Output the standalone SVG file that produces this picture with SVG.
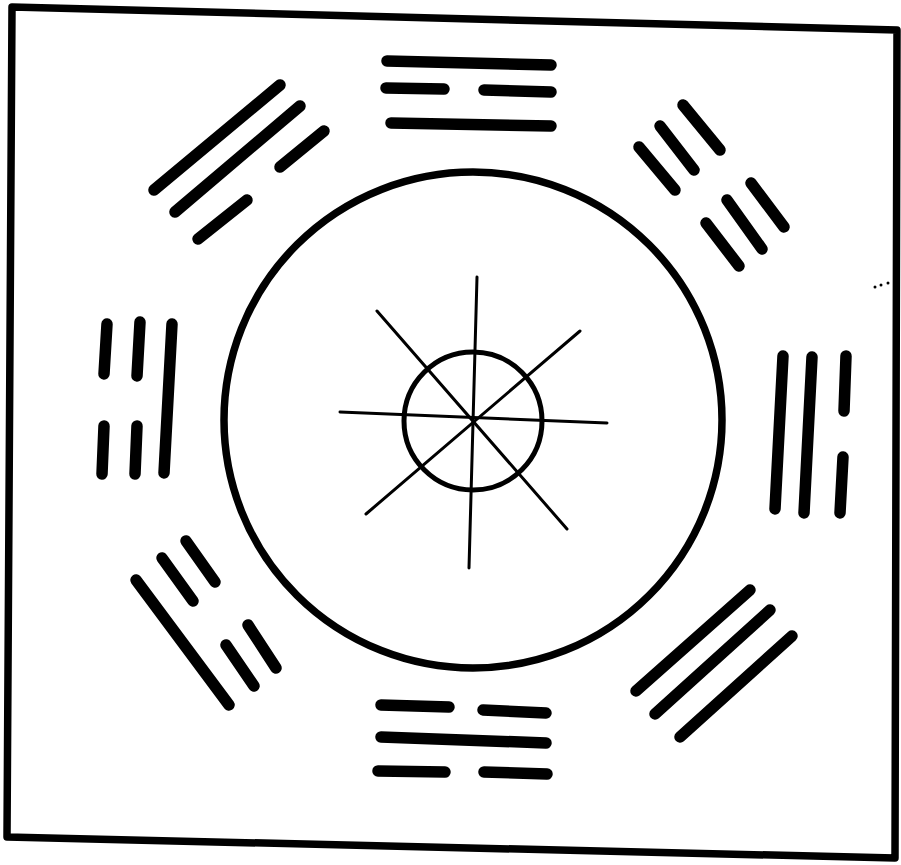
<svg xmlns="http://www.w3.org/2000/svg" width="901" height="865" viewBox="0 0 901 865">
<style>
.frame{fill:none;stroke:#000;stroke-width:7.5;stroke-linejoin:round}
.ring{fill:none;stroke:#000;stroke-width:7.5}
.inner{fill:none;stroke:#000;stroke-width:5}
.spoke{stroke:#000;stroke-width:3;stroke-linecap:round}
.bar{stroke:#000;stroke-width:11.5;stroke-linecap:round;fill:none}
</style>
<rect x="0" y="0" width="901" height="865" fill="#fff"/>
<polygon class="frame" points="12,7 897,30 895,858 7,837"/>
<g id="outer-circle"><ellipse class="ring" cx="473" cy="420" rx="249" ry="248"/></g>
<g id="center">
<circle class="inner" cx="473" cy="421" r="69"/>
<line class="spoke" x1="477" y1="277" x2="469" y2="568"/>
<line class="spoke" x1="340" y1="412" x2="607" y2="423"/>
<line class="spoke" x1="377" y1="311" x2="567" y2="529"/>
<line class="spoke" x1="580" y1="331" x2="366" y2="514"/>
</g>
<g id="trigram-top">
<line class="bar" x1="387" y1="61" x2="551" y2="65"/>
<line class="bar" x1="386" y1="88" x2="444" y2="89"/>
<line class="bar" x1="484" y1="90" x2="551" y2="92"/>
<line class="bar" x1="391" y1="123" x2="551" y2="126"/>
</g>
<g id="trigram-bottom">
<line class="bar" x1="381" y1="705" x2="449" y2="707"/>
<line class="bar" x1="483" y1="710" x2="546" y2="713"/>
<line class="bar" x1="381" y1="737" x2="546" y2="743"/>
<line class="bar" x1="378" y1="771" x2="445" y2="772"/>
<line class="bar" x1="484" y1="772" x2="547" y2="774"/>
</g>
<g id="trigram-top-left">
<line class="bar" x1="154" y1="190" x2="280" y2="85"/>
<line class="bar" x1="175" y1="212" x2="300" y2="106"/>
<line class="bar" x1="280" y1="167" x2="324" y2="131"/>
<line class="bar" x1="198" y1="239" x2="247" y2="200"/>
</g>
<g id="trigram-top-right">
<line class="bar" x1="683" y1="105" x2="720" y2="150"/>
<line class="bar" x1="660" y1="126" x2="694" y2="170"/>
<line class="bar" x1="639" y1="147" x2="675" y2="190"/>
<line class="bar" x1="751" y1="183" x2="784" y2="227"/>
<line class="bar" x1="727" y1="200" x2="762" y2="249"/>
<line class="bar" x1="706" y1="223" x2="739" y2="266"/>
</g>
<g id="trigram-left">
<line class="bar" x1="107" y1="324" x2="104" y2="374"/>
<line class="bar" x1="104" y1="426" x2="102" y2="474"/>
<line class="bar" x1="140" y1="322" x2="137" y2="376"/>
<line class="bar" x1="137" y1="426" x2="135" y2="474"/>
<line class="bar" x1="172" y1="324" x2="164" y2="473"/>
</g>
<g id="trigram-right">
<line class="bar" x1="783" y1="356" x2="775" y2="509"/>
<line class="bar" x1="812" y1="357" x2="804" y2="513"/>
<line class="bar" x1="846" y1="356" x2="844" y2="411"/>
<line class="bar" x1="843" y1="457" x2="840" y2="513"/>
</g>
<g id="trigram-bottom-left">
<line class="bar" x1="136" y1="580" x2="229" y2="705"/>
<line class="bar" x1="162" y1="558" x2="193" y2="601"/>
<line class="bar" x1="226" y1="645" x2="254" y2="686"/>
<line class="bar" x1="186" y1="541" x2="215" y2="582"/>
<line class="bar" x1="248" y1="625" x2="276" y2="668"/>
</g>
<g id="trigram-bottom-right">
<line class="bar" x1="636" y1="691" x2="750" y2="590"/>
<line class="bar" x1="655" y1="714" x2="770" y2="610"/>
<line class="bar" x1="680" y1="737" x2="792" y2="636"/>
</g>
<g id="specks">
<circle cx="875" cy="287" r="1.5"/>
<circle cx="881" cy="285" r="1.5"/>
<circle cx="888" cy="283" r="1.5"/>
</g>
</svg>
